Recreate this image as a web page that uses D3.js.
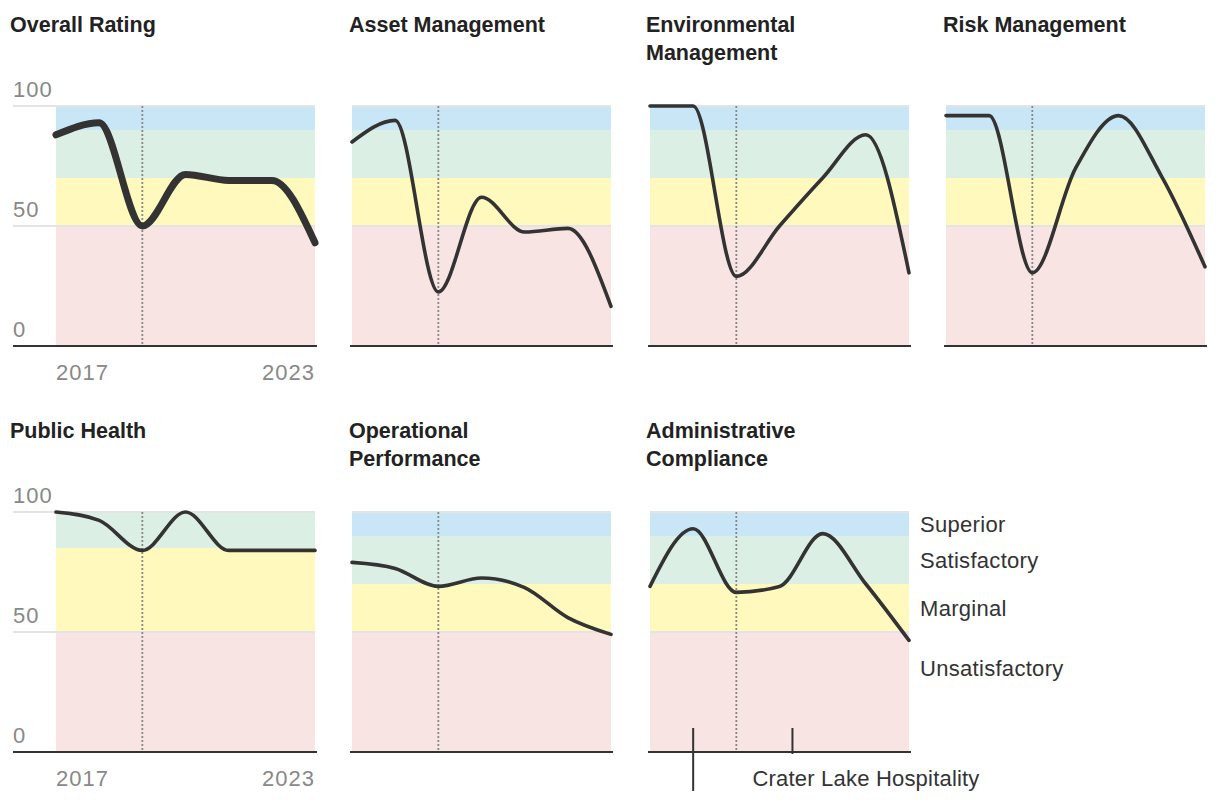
<!DOCTYPE html>
<html lang="en">
<head>
  <meta charset="UTF-8">
  <title>Ratings small multiples</title>
  <script src="https://d3js.org/d3.v7.min.js"></script>
  <style>
    body {
      margin: 0;
      background: #fff;
      font-family: "Liberation Sans", Arial, sans-serif;
    }

    svg {
      display: block;
    }

    .title {
      font-size: 21.5px;
      font-weight: bold;
      fill: #222;
    }

    .tick-label {
      font-size: 22px;
      letter-spacing: 1px;
      fill: #888;
    }

    .legend-label {
      font-size: 22px;
      letter-spacing: 0.3px;
      fill: #333;
    }
  </style>
</head>
<body>
  <svg width="1220" height="802"></svg>

  <script>
    const years = [2017, 2018, 2019, 2020, 2021, 2022, 2023];

    const overall = [88, 93, 50, 71.5, 69, 69, 43];
    const asset = [85, 94, 22.5, 62, 47.5, 49, 16.5];
    const environmental = [100, 100, 29, 50, 70, 88, 30.5];
    const risk = [96, 96, 30.5, 74, 96, 70.5, 33];
    const publicHealth = [100, 96.5, 84, 100, 84, 84, 84];
    const operational = [79, 76.5, 69, 72.5, 68.5, 56, 49];
    const administrative = [69, 93, 66.5, 69, 91, 70, 46.5];

    const titles = [
      ["Overall Rating"], ["Asset Management"], ["Environmental", "Management"], ["Risk Management"],
      ["Public Health"], ["Operational", "Performance"], ["Administrative", "Compliance"]
    ];
    const series = [overall, asset, environmental, risk, publicHealth, operational, administrative];

    // rating bands: [name, lower, upper]
    const standardBands = [["Superior", 90, 100], ["Satisfactory", 70, 90], ["Marginal", 50, 70], ["Unsatisfactory", 0, 50]];
    const healthBands = [["Satisfactory", 85, 100], ["Marginal", 50, 85], ["Unsatisfactory", 0, 50]];
    const legendNames = ["Superior", "Satisfactory", "Marginal", "Unsatisfactory"];
    const legendAt = [95, 80, 60, 35];

    const yTicks = [100, 50, 0];
    const markYear = 2019;
    const operatorStart = 2018;
    const operatorTick = 2020.3;

    const bandColor = d3.scaleOrdinal()
      .domain(legendNames)
      .range(["#c9e6f6", "#dcefe4", "#fff9bd", "#f8e4e3"]);

    const plotW = 259, plotH = 240;
    const plotLeft = [56, 352, 650, 946];
    const titleX = [10, 349, 646, 943];
    const rowTop = [106, 512];
    const titleY = [32, 438];

    const x = d3.scaleLinear().domain([2017, 2023]).range([0, plotW]);
    const y = d3.scaleLinear().domain([0, 100]).range([plotH, 0]);

    const line = d3.line()
      .x((d, i) => x(years[i]))
      .y(d => y(d))
      .curve(d3.curveMonotoneX);

    const svg = d3.select("svg");

    series.forEach((values, k) => {
      const col = k % 4, row = Math.floor(k / 4);
      const bands = k === 4 ? healthBands : standardBands;

      svg.append("text")
        .attr("class", "title")
        .attr("x", titleX[col])
        .attr("y", titleY[row])
        .selectAll("tspan")
        .data(titles[k])
        .join("tspan")
        .attr("x", titleX[col])
        .attr("dy", (d, i) => i ? 28 : 0)
        .text(d => d);

      const g = svg.append("g")
        .attr("transform", `translate(${plotLeft[col]},${rowTop[row]})`);

      g.selectAll("rect")
        .data(bands)
        .join("rect")
        .attr("x", 0)
        .attr("width", plotW)
        .attr("y", d => y(d[2]))
        .attr("height", d => y(d[1]) - y(d[2]))
        .attr("fill", d => bandColor(d[0]));

      const gridStart = col === 0 ? -43 : 0;
      g.selectAll(".grid")
        .data([100, 50])
        .join("line")
        .attr("class", "grid")
        .attr("x1", gridStart)
        .attr("x2", plotW)
        .attr("y1", d => y(d))
        .attr("y2", d => y(d))
        .attr("stroke", "#e4e4e4")
        .attr("stroke-width", 2);

      g.append("line")
        .attr("x1", x(markYear))
        .attr("x2", x(markYear))
        .attr("y1", 0)
        .attr("y2", plotH)
        .attr("stroke", "#888")
        .attr("stroke-width", 1.8)
        .attr("stroke-dasharray", "2,2");

      g.append("line")
        .attr("x1", col === 0 ? -43 : -2)
        .attr("x2", plotW + 2)
        .attr("y1", plotH)
        .attr("y2", plotH)
        .attr("stroke", "#333")
        .attr("stroke-width", 2);

      g.append("path")
        .datum(values)
        .attr("d", line)
        .attr("fill", "none")
        .attr("stroke", "#333")
        .attr("stroke-width", k === 0 ? 7 : 3.6)
        .attr("stroke-linejoin", "round")
        .attr("stroke-linecap", "round");

      if (col === 0) {
        g.selectAll(".ylab")
          .data(yTicks)
          .join("text")
          .attr("class", "tick-label")
          .attr("x", -43)
          .attr("y", d => y(d) - 9)
          .text(d => d);

        g.selectAll(".xlab")
          .data([2017, 2023])
          .join("text")
          .attr("class", "tick-label")
          .attr("x", d => x(d))
          .attr("y", plotH + 34)
          .attr("text-anchor", (d, i) => i ? "end" : "start")
          .text(d => d);
      }

      if (k === 6) {
        g.selectAll(".legend-label")
          .data(legendNames)
          .join("text")
          .attr("class", "legend-label")
          .attr("x", plotW + 11)
          .attr("y", (d, i) => y(legendAt[i]))
          .attr("dy", "0.35em")
          .text(d => d);

        g.append("line")
          .attr("x1", x(operatorStart))
          .attr("x2", x(operatorStart))
          .attr("y1", plotH - 24)
          .attr("y2", plotH + 39)
          .attr("stroke", "#333")
          .attr("stroke-width", 2);

        g.append("line")
          .attr("x1", x(operatorTick))
          .attr("x2", x(operatorTick))
          .attr("y1", plotH - 24)
          .attr("y2", plotH + 2)
          .attr("stroke", "#333")
          .attr("stroke-width", 2);

        g.append("text")
          .attr("class", "legend-label")
          .style("letter-spacing", "0.2px")
          .attr("x", x(operatorTick) - 40)
          .attr("y", plotH + 34)
          .text("Crater Lake Hospitality");
      }
    });
  </script>
</body>
</html>
